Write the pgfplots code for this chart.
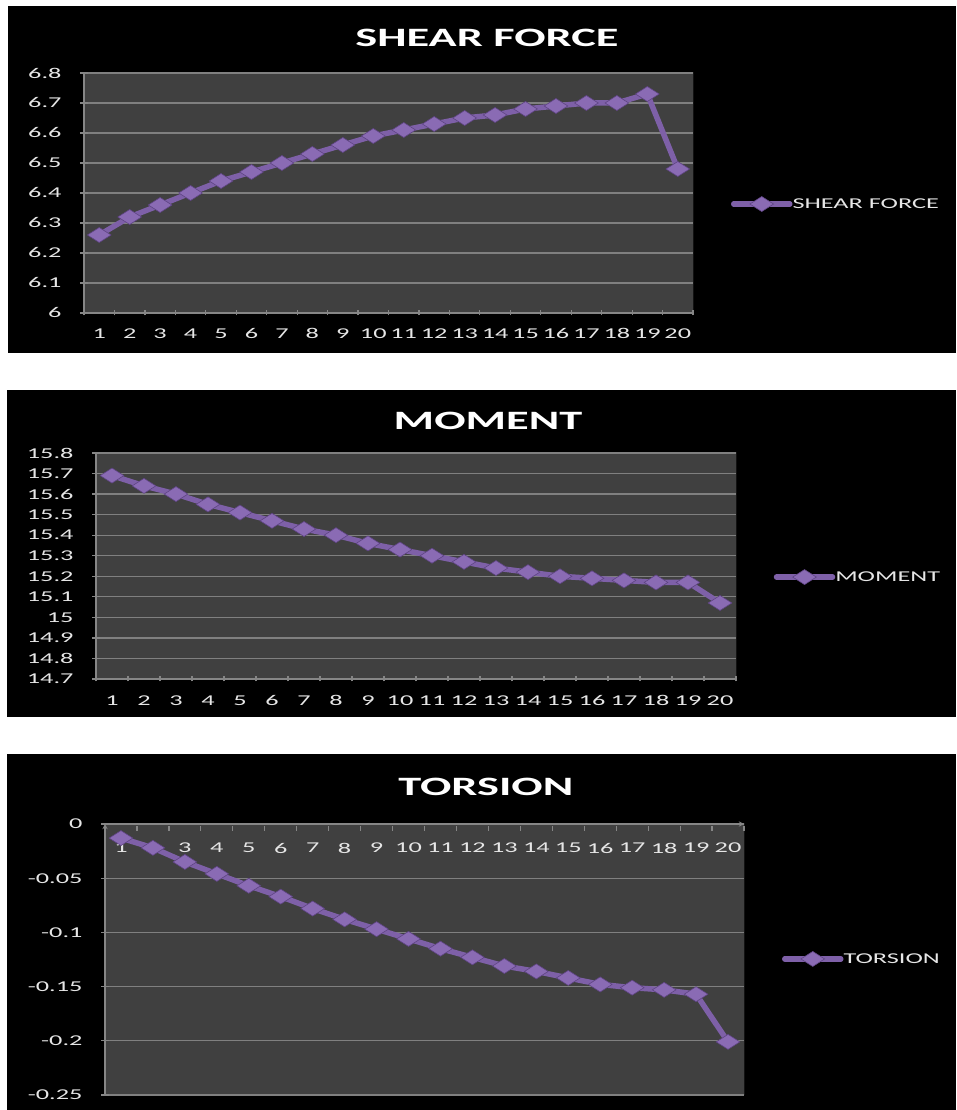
\documentclass[border=0pt]{standalone}
\usepackage{pgfplots}
\pgfplotsset{compat=1.18}
\usepackage{fontspec}
\setmainfont{Carlito}[FakeStretch=1.75]
\newfontfamily\tickfont{Carlito}[FakeStretch=1.75]
\newcommand\tl[1]{\mbox{\tickfont\fontsize{15}{18}\selectfont #1}}

\definecolor{plotbg}{HTML}{404040}
\definecolor{gridc}{HTML}{808080}
\definecolor{axisc}{HTML}{868686}
\definecolor{seriesline}{HTML}{7E60A8}
\definecolor{markfill}{HTML}{8A6BB4}
\definecolor{markdraw}{HTML}{5E4483}
\definecolor{labelc}{HTML}{E6E6E6}

\pgfplotsset{
  panel/.style={
    scale only axis,
    anchor=south west,
    xmin=0.5, xmax=20.5,
    xtick={1,...,20},
    xticklabels={\tl{1},\tl{2},\tl{3},\tl{4},\tl{5},\tl{6},\tl{7},\tl{8},\tl{9},\tl{10},
      \tl{11},\tl{12},\tl{13},\tl{14},\tl{15},\tl{16},\tl{17},\tl{18},\tl{19},\tl{20}},
    minor xtick={0.5,1.5,...,20.5},
    major x tick style={draw=none},
    minor x tick style={draw=axisc, line width=1.2pt},
    y tick style={draw=axisc, line width=1.2pt},
    tick align=outside,
    major tick length=8pt,
    minor tick length=5pt,
    axis lines=left,
    axis line style={-, draw=axisc, line width=1.3pt},
    axis background/.style={fill=plotbg, draw=black!70!plotbg, line width=1pt},
    ymajorgrids,
    major grid style={draw=gridc, line width=1.2pt},
    ticklabel style={text=labelc},
    yticklabel style={xshift=-15pt},
    xticklabel style={yshift=-8pt},
    title style={font=\fontsize{26.5}{30}\selectfont\bfseries, text=white, anchor=center},
    legend style={anchor=west, draw=none, fill=none, text=labelc,
      font=\fontsize{15}{18}\selectfont, inner sep=0pt, outer sep=0pt,
      /tikz/every odd column/.append style={column sep=0pt},
      nodes={inner sep=0pt}},
    legend image code/.code={
      \draw[mark repeat=2, mark phase=2, line cap=round, #1]
        plot coordinates {(0pt,0pt) (28pt,0pt) (56pt,0pt)};
    },
  },
  series/.style={
    draw=seriesline, line width=5.5pt,
    mark=diamond*,
    mark size=7.5pt,
    mark options={solid, xscale=2.1, fill=markfill, draw=markdraw, line width=0.6pt},
  },
}

\begin{document}
\begin{tikzpicture}[x=1pt, y=1pt]
  \fill[white] (0,0) rectangle (956,1110);
  \fill[black] (8,757) rectangle (956,1104);
  \fill[black] (7,393) rectangle (956,720);
  \fill[black] (7,0) rectangle (956,356);
  \useasboundingbox (0,0) rectangle (956,1110);

  % Shear force along the member
  \begin{axis}[panel,
      at={(84pt,797pt)}, width=609pt, height=240pt,
      ymin=6, ymax=6.8,
      ytick={6,6.1,6.2,6.3,6.4,6.5,6.6,6.7,6.8},
      yticklabels={\tl{6},\tl{6.1},\tl{6.2},\tl{6.3},\tl{6.4},\tl{6.5},\tl{6.6},\tl{6.7},\tl{6.8}},
      title={SHEAR FORCE},
      title style={at={(0.6617,1.121)}},
      legend style={at={(1.0624,0.454)}}]
    \addplot[series] coordinates {
      (1,6.26) (2,6.32) (3,6.36) (4,6.40) (5,6.44)
      (6,6.47) (7,6.50) (8,6.53) (9,6.56) (10,6.59)
      (11,6.61) (12,6.63) (13,6.65) (14,6.66) (15,6.68)
      (16,6.69) (17,6.70) (18,6.70) (19,6.73) (20,6.48)};
    \addlegendentry{SHEAR FORCE}
  \end{axis}

  % Bending moment
  \begin{axis}[panel,
      at={(96pt,431pt)}, width=640pt, height=226pt,
      ymin=14.7, ymax=15.8,
      ytick={14.7,14.8,14.9,15,15.1,15.2,15.3,15.4,15.5,15.6,15.7,15.8},
      yticklabels={\tl{14.7},\tl{14.8},\tl{14.9},\tl{15},\tl{15.1},\tl{15.2},
        \tl{15.3},\tl{15.4},\tl{15.5},\tl{15.6},\tl{15.7},\tl{15.8}},
      xticklabel style={yshift=-1pt},
      title={MOMENT},
      title style={at={(0.6125,1.115)}},
      legend style={at={(1.059,0.451)}}]
    \addplot[series] coordinates {
      (1,15.69) (2,15.64) (3,15.60) (4,15.55) (5,15.51)
      (6,15.47) (7,15.43) (8,15.40) (9,15.36) (10,15.33)
      (11,15.30) (12,15.27) (13,15.24) (14,15.22) (15,15.20)
      (16,15.19) (17,15.18) (18,15.17) (19,15.17) (20,15.07)};
    \addlegendentry{MOMENT}
  \end{axis}

  % Torsion: category axis sits on the zero line at the top
  \begin{axis}[panel,
      at={(105pt,15pt)}, width=639pt, height=271pt,
      axis x line=top, axis y line=left,
      ymin=-0.25, ymax=0,
      ytick={-0.25,-0.2,-0.15,-0.1,-0.05,0},
      yticklabels={\tl{-0.25},\tl{-0.2},\tl{-0.15},\tl{-0.1},\tl{-0.05},\tl{0}},
      minor x tick style={draw=axisc, line width=1.2pt, yshift=-5pt},
      xticklabel style={anchor=center, yshift=-20pt},
      title={TORSION},
      title style={at={(0.596,1.114)}},
      legend style={at={(1.0595,0.502)}}]
    \addplot[series] coordinates {
      (1,-0.013) (2,-0.022) (3,-0.035) (4,-0.046) (5,-0.057)
      (6,-0.067) (7,-0.078) (8,-0.088) (9,-0.097) (10,-0.106)
      (11,-0.115) (12,-0.123) (13,-0.131) (14,-0.136) (15,-0.142)
      (16,-0.148) (17,-0.151) (18,-0.153) (19,-0.157) (20,-0.201)};
    \addlegendentry{TORSION}
  \end{axis}
\end{tikzpicture}
\end{document}
